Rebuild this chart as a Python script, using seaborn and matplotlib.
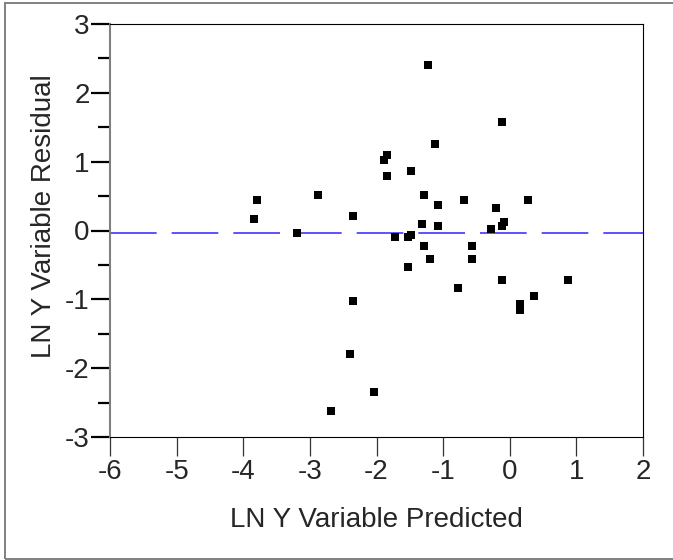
import pandas as pd
import matplotlib.pyplot as plt
import seaborn as sns
from matplotlib.patches import Rectangle
from matplotlib.ticker import MultipleLocator

# --- data ---
predicted = [-1.23, -1.12, -1.84, -1.88, -1.48, -1.84, -3.80, -2.88, -1.28, -1.08,
             -3.84, -2.36, -1.32, -1.08, -3.20, -1.72, -1.52, -1.48, -1.28, -1.20,
             -1.52, -0.78, -2.36, -2.40, -2.04, -2.69, -0.12, -0.68, 0.28, -0.20,
             -0.08, -0.12, -0.28, -0.56, -0.56, -0.12, 0.88, 0.36, 0.16, 0.16]
residual = [2.41, 1.26, 1.10, 1.02, 0.87, 0.79, 0.44, 0.52, 0.52, 0.37,
            0.17, 0.21, 0.09, 0.06, -0.03, -0.10, -0.10, -0.06, -0.22, -0.41,
            -0.53, -0.84, -1.03, -1.80, -2.35, -2.62, 1.57, 0.44, 0.44, 0.33,
            0.13, 0.06, 0.02, -0.22, -0.41, -0.72, -0.72, -0.95, -1.07, -1.15]
ref_line = -0.03
x_ticks = [-6, -5, -4, -3, -2, -1, 0, 1, 2]
y_ticks = [-3, -2, -1, 0, 1, 2, 3]

df = pd.DataFrame({"pred": predicted, "resid": residual})

sns.set_style("white")
plt.rcParams['font.family'] = ['Liberation Sans', 'DejaVu Sans']
plt.rcParams['axes.unicode_minus'] = False
plt.rcParams['lines.scale_dashes'] = False

fig = plt.figure(figsize=(6.73, 5.6), dpi=100)
ax = fig.add_axes([110 / 673, 1 - 437 / 560, 533 / 673, 413 / 560])

# outer frame around the report panel (right edge runs off the picture)
fig.patches.append(Rectangle((5 / 673, 1 / 560), 1.2, 556 / 560, transform=fig.transFigure,
                             fill=False, edgecolor='#808080', lw=1.4))

ax.axhline(ref_line, color='#3322ff', lw=1.1, dashes=(33.6, 10.8), zorder=1)
sns.scatterplot(data=df, x="pred", y="resid", marker='s', s=34, color='black',
                linewidth=0, ax=ax, zorder=3)

ax.set_xlim(-6, 2)
ax.set_ylim(-3, 3)
ax.set_xticks(x_ticks)
ax.set_yticks(y_ticks)
ax.yaxis.set_minor_locator(MultipleLocator(0.5))
ax.tick_params(axis='y', which='major', direction='out', length=13.7, width=1.6,
               color='black', labelsize=20, pad=1, left=True)
ax.tick_params(axis='y', which='minor', direction='out', length=8.6, width=1.6,
               color='black', left=True)
ax.tick_params(axis='x', which='major', direction='out', length=13.7, width=0.9,
               color='#333333', labelsize=20, pad=2, bottom=True)

for side in ['top', 'right', 'bottom']:
    ax.spines[side].set_color('black')
    ax.spines[side].set_linewidth(0.8)
ax.spines['left'].set_color('#808080')
ax.spines['left'].set_linewidth(1.5)

ax.set_xlabel('LN Y Variable Predicted', fontsize=20, labelpad=16)
ax.set_ylabel('LN Y Variable Residual', fontsize=20)
ax.yaxis.set_label_coords(-0.10, 0.535)

fig.savefig('out.png', dpi=100)
